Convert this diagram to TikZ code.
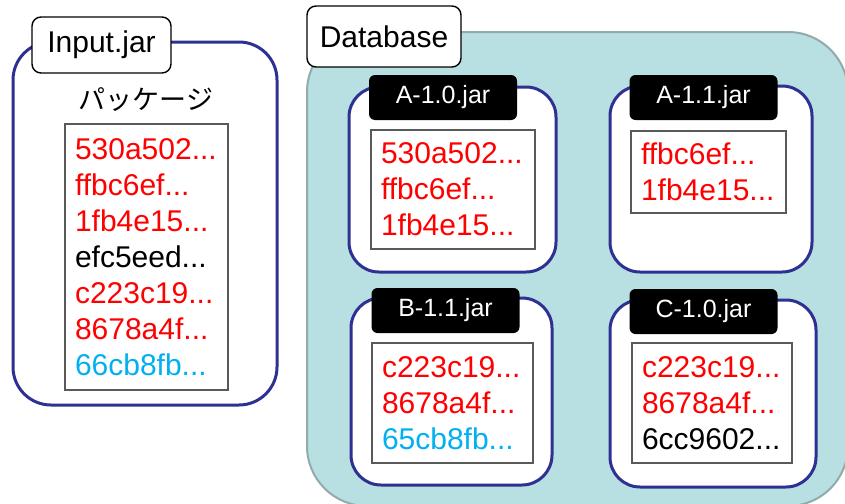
\documentclass[tikz,border=0pt]{standalone}
\usepackage{fontspec}
\setmainfont{Liberation Sans}
\newfontfamily\jpfont{Noto Sans CJK JP}
\usetikzlibrary{fit}
\definecolor{jarnavy}{HTML}{2E3192}
\definecolor{dbfill}{HTML}{B8DFE2}
\definecolor{dbline}{HTML}{93AAAA}
\definecolor{hashred}{HTML}{FF0000}
\definecolor{hashblue}{HTML}{00B0F0}
\newcommand{\hashfont}{\fontsize{15pt}{18pt}\selectfont}
\newcommand{\rd}[1]{\textcolor{hashred}{#1}}
\newcommand{\bl}[1]{\textcolor{hashblue}{#1}}

\begin{document}
\begin{tikzpicture}[x=0.5pt,y=-0.5pt,
  jar/.style={draw=jarnavy,line width=1.5pt,fill=white,rounded corners=15pt,inner sep=0pt},
  tag/.style={fill=black,text=white,rounded corners=3pt,minimum width=74pt,minimum height=22.5pt,inner sep=0pt,font=\fontsize{12.5pt}{14pt}\selectfont},
  whitetag/.style={draw=black,line width=0.7pt,fill=white,rounded corners=4.5pt,inner sep=0pt,font=\hashfont},
  hashes/.style={draw=black!65,line width=0.6pt,fill=white,inner xsep=5pt,inner ysep=0pt,align=left,text width=#1,font=\hashfont}]
\useasboundingbox (0,0) rectangle (845,503);
\clip (0,0) rectangle (845,503);

\node[jar,rounded corners=19pt,fit={(13,42) (277,405)}] (input) {};
\node[whitetag,minimum width=69.5pt,minimum height=28pt] (inputtag) at (101.5,45) {Input.jar};
\node[font=\jpfont\fontsize{13.5pt}{16pt}\selectfont] (pkg) at (146,100) {パッケージ};
\node[hashes=71.5pt,minimum height=133pt] (inputlist) at (146.5,257)
  {\rd{530a502...}\\ \rd{ffbc6ef...}\\ \rd{1fb4e15...}\\ efc5eed...\\ \rd{c223c19...}\\ \rd{8678a4f...}\\ \bl{66cb8fb...}};

\node[draw=dbline,line width=1pt,fill=dbfill,rounded corners=30pt,inner sep=0pt,fit={(307,32) (848,506)}] (db) {};
\node[whitetag,minimum width=77pt,minimum height=30.5pt] (dbtag) at (384,36.5) {Database};

\node[jar,fit={(349,87) (556,272)}] (a10) {};
\node[jar,fit={(610,86) (812,272)}] (a11) {};
\node[jar,fit={(351,298) (552,485)}] (b11) {};
\node[jar,fit={(610,300) (816,487)}] (c10) {};

\node[tag] (a10tag) at (443,97.5) {A-1.0.jar};
\node[tag] (a11tag) at (703.5,97.5) {A-1.1.jar};
\node[tag] (b11tag) at (445.5,310.5) {B-1.1.jar};
\node[tag] (c10tag) at (703.5,311.5) {C-1.0.jar};

\node[hashes=72pt,minimum height=59.5pt] (a10list) at (453,189.5)
  {\rd{530a502...}\\ \rd{ffbc6ef...}\\ \rd{1fb4e15...}};
\node[hashes=67.5pt,minimum height=41pt] (a11list) at (708.5,172)
  {\rd{ffbc6ef...}\\ \rd{1fb4e15...}};
\node[hashes=70.5pt,minimum height=60pt] (b11list) at (452.5,403)
  {\rd{c223c19...}\\ \rd{8678a4f...}\\ \bl{65cb8fb...}};
\node[hashes=70pt,minimum height=60pt] (c10list) at (712,403)
  {\rd{c223c19...}\\ \rd{8678a4f...}\\ 6cc9602...};

\end{tikzpicture}
\end{document}
